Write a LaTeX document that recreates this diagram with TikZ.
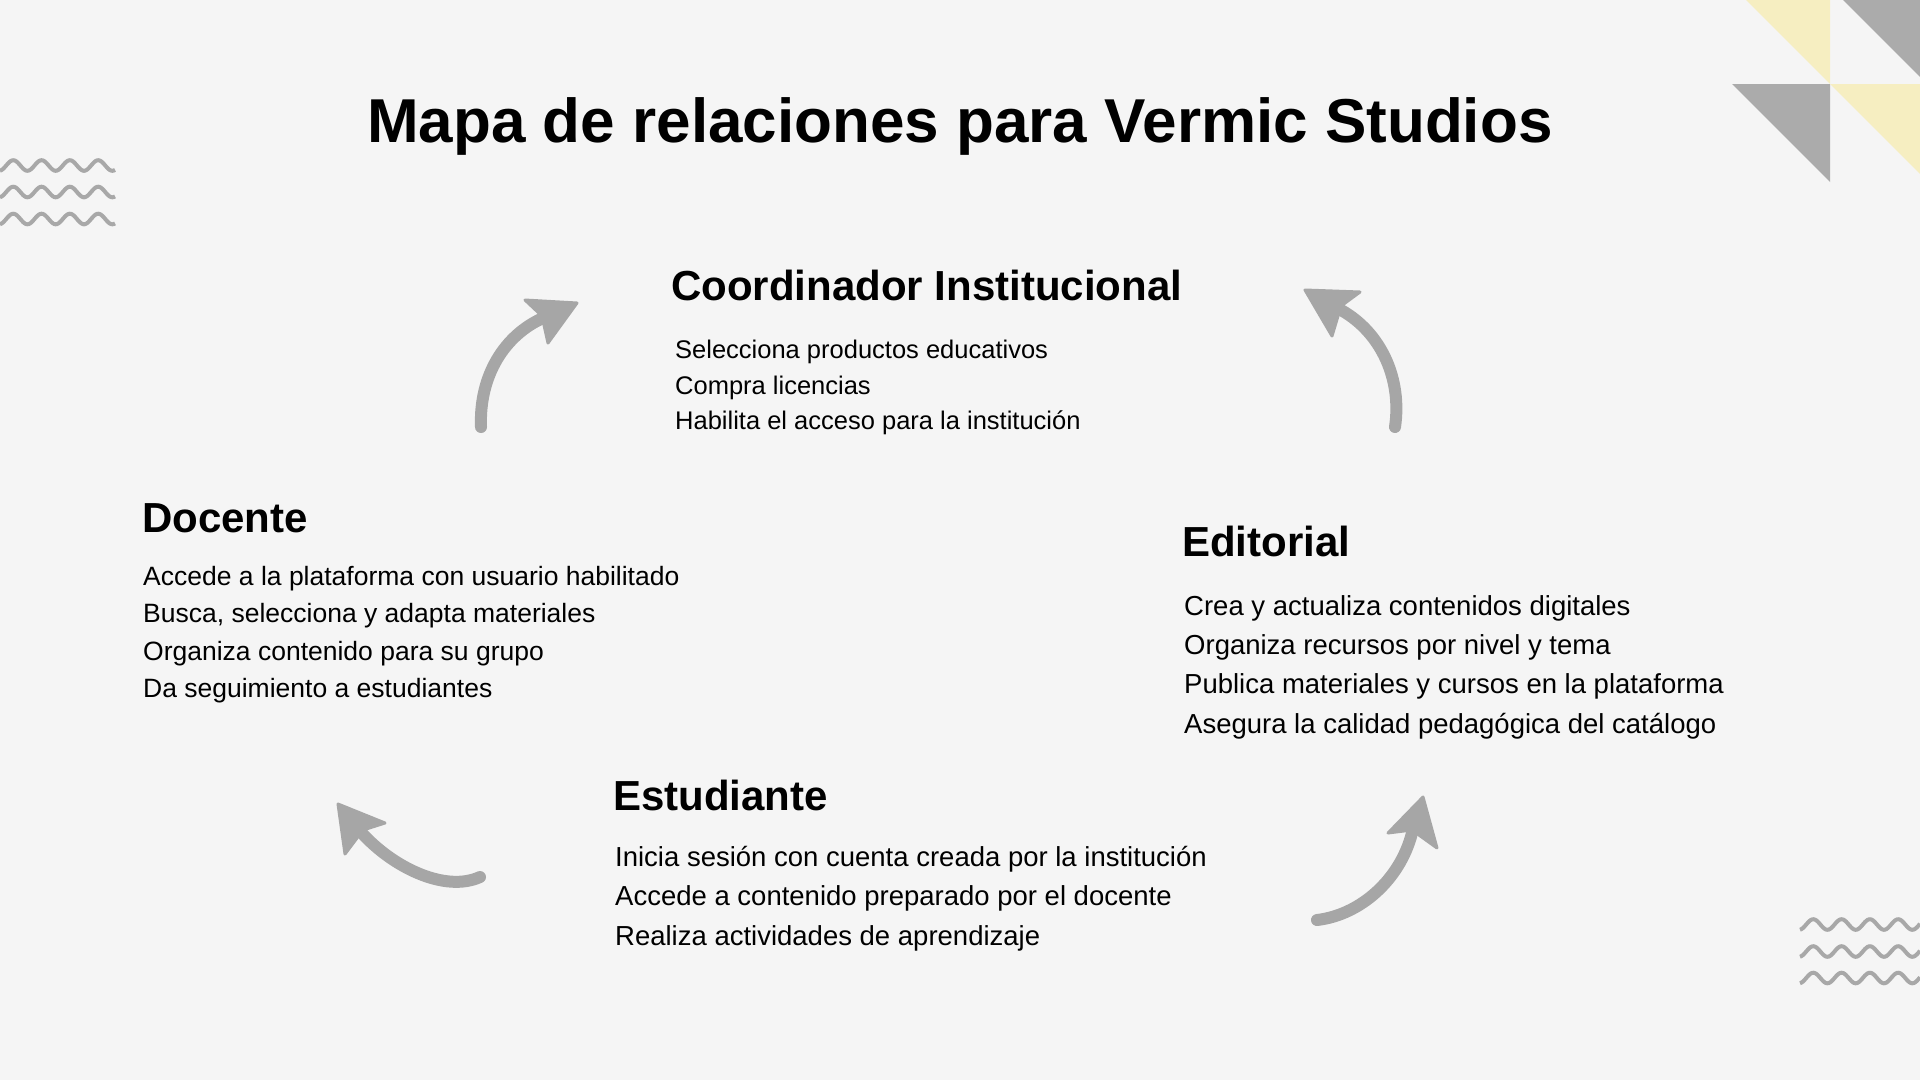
\documentclass[tikz,border=0pt]{standalone}
\usepackage{fontspec}
\setmainfont{Liberation Sans}
\definecolor{bg}{RGB}{245,245,245}
\definecolor{arrowgray}{RGB}{166,166,166}
\definecolor{decogray}{RGB}{171,171,171}
\definecolor{decoyellow}{RGB}{246,238,193}
\definecolor{wavegray}{RGB}{168,168,168}
\begin{document}
\begin{tikzpicture}[x=1pt,y=-1pt,
  titletext/.style={font=\fontsize{62}{62}\selectfont\bfseries, anchor=base, inner sep=0},
  heading/.style={font=\fontsize{42}{42}\selectfont\bfseries, anchor=base west, inner sep=0},
  itembase/.style={anchor=base west, inner sep=0},
  coorditem/.style={itembase, font=\fontsize{25.5}{25.5}\selectfont},
  docitem/.style={itembase, font=\fontsize{26.5}{26.5}\selectfont},
  edititem/.style={itembase, font=\fontsize{27.5}{27.5}\selectfont},
  estitem/.style={itembase, font=\fontsize{27.5}{27.5}\selectfont},
  shaft/.style={draw=arrowgray, line width=12pt, line cap=round},
  head/.style={fill=arrowgray, draw=arrowgray, line width=3pt, line join=round},
  wave/.style={draw=wavegray, line width=4pt, line join=round, line cap=butt}
]
\fill[bg] (0,0) rectangle (1920,1080);
\useasboundingbox (0,0) rectangle (1920,1080);

% corner decoration
\begin{scope}
\clip (0,0) rectangle (1920,1080);
\fill[decoyellow] (1746,0) -- (1830,0) -- (1830,84) -- cycle;
\fill[decogray] (1843,0) -- (1940,0) -- (1940,97) -- cycle;
\fill[decogray] (1732,84) -- (1830,84) -- (1830,182) -- cycle;
\fill[decoyellow] (1830,84) -- (1940,84) -- (1940,194) -- cycle;
\end{scope}

% waves
\foreach \yc in {165.5,192,219}
  \draw[wave] plot[variable=\t, domain=0:115, samples=90, smooth] (\t,{\yc-5.3*sin((\t-6.2)/28.3*360)});
\foreach \yc in {924.5,951.5,978}
  \draw[wave] plot[variable=\t, domain=0:120, samples=90, smooth] ({1800+\t},{\yc-5.3*sin((\t-6.2)/28.3*360)});

% title
\node[titletext] (title) at (960,142) {Mapa de relaciones para Vermic Studios};

% Coordinador
\node[heading] (coord) at (671,300) {Coordinador Institucional};
\node[coorditem] (c1) at (675,358) {Selecciona productos educativos};
\node[coorditem] (c2) at (675,394) {Compra licencias};
\node[coorditem] (c3) at (675,429) {Habilita el acceso para la institución};

% Docente
\node[heading] (doc) at (142,532) {Docente};
\node[docitem] (d1) at (143,585) {Accede a la plataforma con usuario habilitado};
\node[docitem] (d2) at (143,622) {Busca, selecciona y adapta materiales};
\node[docitem] (d3) at (143,660) {Organiza contenido para su grupo};
\node[docitem] (d4) at (143,697) {Da seguimiento a estudiantes};

% Editorial
\node[heading] (edit) at (1182,556) {Editorial};
\node[edititem] (e1) at (1184,615) {Crea y actualiza contenidos digitales};
\node[edititem] (e2) at (1184,654) {Organiza recursos por nivel y tema};
\node[edititem] (e3) at (1184,693) {Publica materiales y cursos en la plataforma};
\node[edititem] (e4) at (1184,733) {Asegura la calidad pedagógica del catálogo};

% Estudiante
\node[heading] (est) at (613,810) {Estudiante};
\node[estitem] (s1) at (615,866) {Inicia sesión con cuenta creada por la institución};
\node[estitem] (s2) at (615,905) {Accede a contenido preparado por el docente};
\node[estitem] (s3) at (615,945) {Realiza actividades de aprendizaje};

% arrows
\coordinate (a1s) at (481,427);
\coordinate (a1e) at (543,318);
\draw[shaft] (a1s) .. controls (479,375) and (505,335) .. (a1e);
\filldraw[head] (525,300) -- (577,303) -- (548,343) -- (542,316) -- cycle;

\coordinate (a2s) at (1395,427);
\coordinate (a2e) at (1341,310);
\draw[shaft] (a2s) .. controls (1402,380) and (1382,333) .. (a2e);
\filldraw[head] (1360,292) -- (1305,290) -- (1332,336) -- (1341,306) -- cycle;

\coordinate (a3s) at (480,877);
\coordinate (a3e) at (361,832);
\draw[shaft] (a3s) .. controls (445,893) and (392,867) .. (a3e);
\filldraw[head] (385,823) -- (338,804) -- (345,854) -- (363,830) -- cycle;

\coordinate (a4s) at (1317,920);
\coordinate (a4e) at (1412,833);
\draw[shaft] (a4s) .. controls (1360,915) and (1400,880) .. (a4e);
\filldraw[head] (1388,833) -- (1423,797) -- (1437,848) -- (1412,830) -- cycle;
\end{tikzpicture}
\end{document}
